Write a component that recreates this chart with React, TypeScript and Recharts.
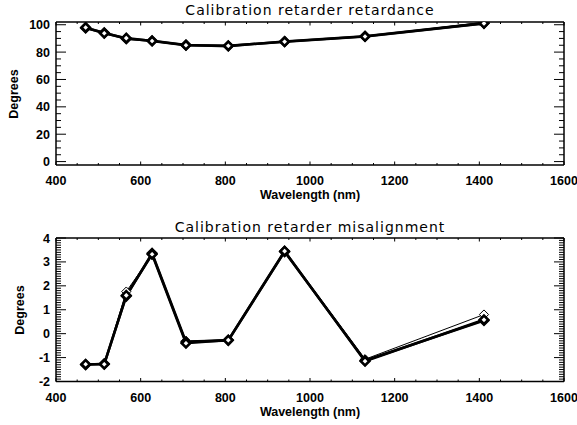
import React from 'react';
import { LineChart, Line, XAxis, YAxis } from 'recharts';

// wavelengths (nm) of the calibration points
const wavelengths = [470, 514, 566, 627, 707, 807, 940, 1130, 1411];

// retardance (degrees), three overlapping fits
const retardanceA = [98.0, 93.8, 90.2, 88.1, 85.0, 84.6, 87.6, 91.4, 101.0];
const retardanceB = [97.6, 94.1, 89.8, 88.3, 85.2, 84.4, 87.8, 91.6, 101.2];
const retardanceC = [98.2, 93.6, 90.4, 88.0, 84.8, 84.7, 87.5, 91.3, 101.8];

// misalignment (degrees)
const misalignA = [-1.28, -1.28, 1.6, 3.32, -0.4, -0.27, 3.45, -1.15, 0.58];
const misalignB = [-1.3, -1.26, 1.57, 3.36, -0.35, -0.28, 3.43, -1.12, 0.55];
const misalignC = [-1.27, -1.29, 1.76, 3.3, -0.3, -0.25, 3.47, -1.07, 0.8];

const xMajor = [400, 600, 800, 1000, 1200, 1400, 1600];
const retMajor = [0, 20, 40, 60, 80, 100];
const misMajor = [-2, -1, 0, 1, 2, 3, 4];

const W = 577;
const FONT = '"Liberation Sans", Arial, sans-serif';

// minor tick positions between the major ones
const withMinor = (major: number[], div: number) => {
  const out: number[] = [];
  for (let i = 0; i < major.length - 1; i++) {
    const step = (major[i + 1] - major[i]) / div;
    for (let k = 0; k < div; k++) out.push(Math.round((major[i] + k * step) * 1000) / 1000);
  }
  out.push(major[major.length - 1]);
  return out;
};

const isIn = (list: number[], v: number) => list.some((m) => Math.abs(m - v) < 1e-6);

const makeDiamond = (r: number, sw: number) => (props: any) => {
  const { cx, cy, index } = props;
  if (cx == null || cy == null) return <g key={index} />;
  return (
    <path
      key={index}
      d={`M${cx},${cy - r}L${cx + r},${cy}L${cx},${cy + r}L${cx - r},${cy}Z`}
      fill="#fff"
      stroke="#000"
      strokeWidth={sw}
    />
  );
};
const thickDot = makeDiamond(4.2, 2.6);
const thinDot = makeDiamond(4.6, 1);

const makeXTick = (side: 'bottom' | 'top', major: number[]) => (props: any) => {
  const { x, y, payload } = props;
  const isMaj = isIn(major, payload.value);
  const len = isMaj ? 3.5 : 2;
  const dir = side === 'bottom' ? -1 : 1;
  return (
    <g>
      <line x1={x} y1={y} x2={x} y2={y + dir * len} stroke="#000" strokeWidth={1} />
      {side === 'bottom' && isMaj && (
        <text x={x} y={y + 20} textAnchor="middle" fontSize={12.5} fontWeight="bold" fontFamily={FONT} fill="#000">
          {payload.value}
        </text>
      )}
    </g>
  );
};

const makeYTick = (side: 'left' | 'right', major: number[]) => (props: any) => {
  const { x, y, payload } = props;
  const isMaj = isIn(major, payload.value);
  const len = isMaj ? 10 : 5;
  const dir = side === 'left' ? 1 : -1;
  return (
    <g>
      <line x1={x} y1={y} x2={x + dir * len} y2={y} stroke="#000" strokeWidth={1} />
      {side === 'left' && isMaj && (
        <text x={x - 6} y={y + 4.5} textAnchor="end" fontSize={12.5} fontWeight="bold" fontFamily={FONT} fill="#000">
          {payload.value}
        </text>
      )}
    </g>
  );
};

const axisLine = { stroke: '#000', strokeWidth: 1.5 };

type PanelProps = {
  title: string;
  top: number;
  height: number;
  plotTop: number;
  plotHeight: number;
  a: number[];
  b: number[];
  c: number[];
  yDomain: [number, number];
  yMajor: number[];
  yMinorDiv: number;
  titleY: number;
  xLabelY: number;
  yLabelX: number;
};

const Panel = (p: PanelProps) => {
  const rows = wavelengths.map((w, i) => ({ w, a: p.a[i], b: p.b[i], c: p.c[i] }));
  const xTicks = withMinor(xMajor, 4);
  const yTicks = withMinor(p.yMajor, p.yMinorDiv);
  const plotLeft = 56;
  const plotRight = 564;
  const cx = (plotLeft + plotRight) / 2;
  const cy = p.plotTop + p.plotHeight / 2;
  return (
    <div style={{ position: 'absolute', left: 0, top: p.top, width: W, height: p.height }}>
      <LineChart
        width={W}
        height={p.height}
        data={rows}
        margin={{ top: p.plotTop - 1, right: W - plotRight - 1, bottom: 0, left: 15 }}
      >
        <XAxis
          xAxisId="b"
          dataKey="w"
          type="number"
          orientation="bottom"
          domain={[400, 1600]}
          ticks={xTicks}
          interval={0}
          allowDataOverflow
          height={p.height - p.plotTop - p.plotHeight}
          tickSize={0}
          tickMargin={0}
          tickLine={false}
          axisLine={axisLine}
          tick={makeXTick('bottom', xMajor)}
        />
        <XAxis
          xAxisId="t"
          dataKey="w"
          type="number"
          orientation="top"
          domain={[400, 1600]}
          ticks={xTicks}
          interval={0}
          allowDataOverflow
          height={1}
          tickSize={0}
          tickMargin={0}
          tickLine={false}
          axisLine={axisLine}
          tick={makeXTick('top', xMajor)}
        />
        <YAxis
          yAxisId="l"
          type="number"
          orientation="left"
          domain={p.yDomain}
          ticks={yTicks}
          interval={0}
          allowDataOverflow
          width={plotLeft - 15}
          tickSize={0}
          tickMargin={0}
          tickLine={false}
          axisLine={axisLine}
          tick={makeYTick('left', p.yMajor)}
        />
        <YAxis
          yAxisId="r"
          type="number"
          orientation="right"
          domain={p.yDomain}
          ticks={yTicks}
          interval={0}
          allowDataOverflow
          width={1}
          tickSize={0}
          tickMargin={0}
          tickLine={false}
          axisLine={axisLine}
          tick={makeYTick('right', p.yMajor)}
        />
        {/* invisible series so the top and right frame axes get drawn */}
        <Line xAxisId="t" yAxisId="r" dataKey="a" stroke="none" dot={false} isAnimationActive={false} />
        <Line xAxisId="b" yAxisId="l" dataKey="c" stroke="#000" strokeWidth={1} dot={thinDot} isAnimationActive={false} />
        <Line xAxisId="b" yAxisId="l" dataKey="b" stroke="#000" strokeWidth={2.6} dot={thickDot} isAnimationActive={false} />
        <Line xAxisId="b" yAxisId="l" dataKey="a" stroke="#000" strokeWidth={2.6} dot={thickDot} isAnimationActive={false} />
      </LineChart>
      <div
        style={{
          position: 'absolute', left: cx, top: p.titleY, transform: 'translate(-50%,-50%)',
          fontFamily: '"DejaVu Sans", sans-serif', fontSize: 14, letterSpacing: 1, whiteSpace: 'nowrap', color: '#000',
        }}
      >
        {p.title}
      </div>
      <div
        style={{
          position: 'absolute', left: cx, top: p.xLabelY, transform: 'translate(-50%,-50%)',
          fontFamily: FONT, fontSize: 12.5, fontWeight: 'bold', whiteSpace: 'nowrap', color: '#000',
        }}
      >
        Wavelength (nm)
      </div>
      <div
        style={{
          position: 'absolute', left: p.yLabelX, top: cy, transform: 'translate(-50%,-50%) rotate(-90deg)',
          fontFamily: FONT, fontSize: 12.5, fontWeight: 'bold', whiteSpace: 'nowrap', color: '#000',
        }}
      >
        Degrees
      </div>
    </div>
  );
};

export default function App() {
  return (
    <div style={{ position: 'absolute', left: 0, top: 0, width: W, height: 425, background: '#fff', overflow: 'hidden' }}>
      <Panel
        title="Calibration retarder retardance"
        top={0}
        height={210}
        plotTop={22}
        plotHeight={143}
        a={retardanceA}
        b={retardanceB}
        c={retardanceC}
        yDomain={[-2.5, 102]}
        yMajor={retMajor}
        yMinorDiv={4}
        titleY={10}
        xLabelY={195}
        yLabelX={14}
      />
      <Panel
        title="Calibration retarder misalignment"
        top={210}
        height={215}
        plotTop={28}
        plotHeight={143.5}
        a={misalignA}
        b={misalignB}
        c={misalignC}
        yDomain={[-2, 4]}
        yMajor={misMajor}
        yMinorDiv={10}
        titleY={16.5}
        xLabelY={202}
        yLabelX={20}
      />
    </div>
  );
}
